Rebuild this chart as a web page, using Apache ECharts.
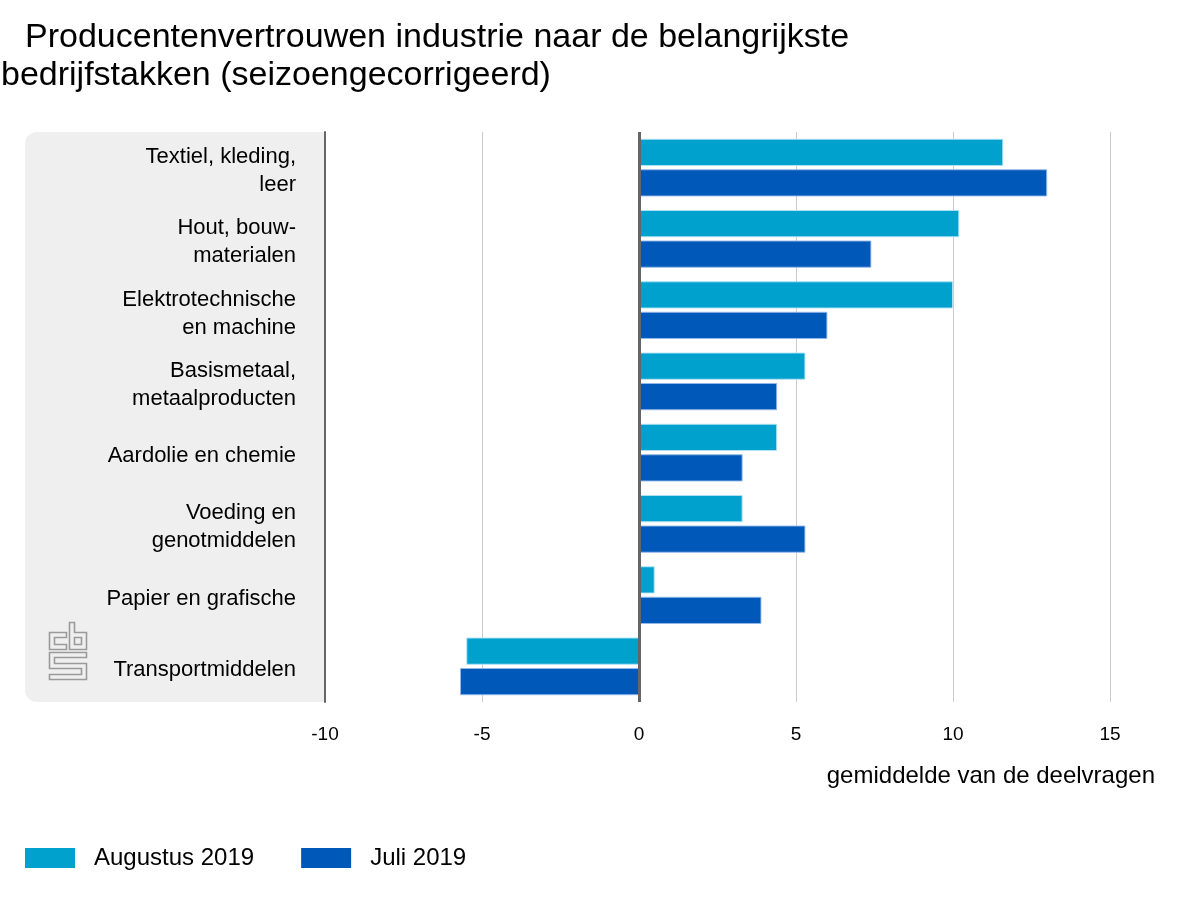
<!DOCTYPE html>
<html><head><meta charset="utf-8">
<script src="https://cdn.jsdelivr.net/npm/echarts@6/dist/echarts.min.js"></script>
<style>html,body{margin:0;padding:0;background:#fff}#c{width:1200px;height:900px}</style>
</head><body><div id="c"></div>
<script>
const categories = ["Textiel, kleding,\nleer","Hout, bouw-\nmaterialen","Elektrotechnische\nen machine","Basismetaal,\nmetaalproducten","Aardolie en chemie","Voeding en\ngenotmiddelen","Papier en grafische","Transportmiddelen"];
const augustus2019 = [11.6, 10.2, 10.0, 5.3, 4.4, 3.3, 0.5, -5.5];
const juli2019 = [13.0, 7.4, 6.0, 4.4, 3.3, 5.3, 3.9, -5.7];
const seriesNames = ["Augustus 2019","Juli 2019"];
const xTicks = {min:-10, max:15, interval:5};

const FONT = '"Liberation Sans", Arial, sans-serif';
const chart = echarts.init(document.getElementById('c'), null, {renderer:'canvas'});
const GL=325, GR=1200-1110, GT=132, GB=900-702;
const logoStroke = {stroke:'#9a9a9a', fill:null, lineWidth:1.6};
const lblStyle = {fontFamily:FONT,fontSize:22,color:'#000',lineHeight:28,align:'right'};
chart.setOption({
  animation:false,
  textStyle:{fontFamily:FONT},
  title:[
    {text:'Producentenvertrouwen industrie naar de belangrijkste', left:20, top:16, textStyle:{fontFamily:FONT,fontSize:34,fontWeight:'normal',color:'#000'}},
    {text:'bedrijfstakken (seizoengecorrigeerd)', left:-4, top:54, textStyle:{fontFamily:FONT,fontSize:34,fontWeight:'normal',color:'#000'}}
  ],
  graphic:[
    {type:'rect', z:-10, shape:{x:25,y:GT,width:GL-25,height:702-GT,r:[12,0,0,12]}, style:{fill:'#efefef'}},
    {type:'text', right:45, top:764, style:{text:'gemiddelde van de deelvragen', font:'24px '+FONT, fill:'#000'}},
    {type:'group', left:47, top:620, children:[
      {type:'polygon', shape:{points:[[17,10],[0,10],[0,27],[17,27],[17,22],[5,22],[5,15],[17,15]]}, style:logoStroke},
      {type:'polygon', shape:{points:[[20,0],[25,0],[25,10],[37,10],[37,27],[20,27]]}, style:logoStroke},
      {type:'rect', shape:{x:25,y:15,width:7,height:7}, style:logoStroke},
      {type:'polygon', shape:{points:[[0,30],[37,30],[37,35],[5,35],[5,41],[37,41],[37,57],[0,57],[0,52],[32,52],[32,46],[0,46]]}, style:logoStroke}
    ]}
  ],
  legend:{left:20, top:841, itemWidth:50, itemHeight:20, itemGap:47, icon:'rect',
    itemStyle:{borderWidth:0},
    data:seriesNames, textStyle:{fontFamily:FONT,fontSize:24,color:'#000',padding:[0,0,0,14]}},
  grid:{left:GL, right:GR, top:GT, bottom:GB, containLabel:false},
  xAxis:{type:'value', min:xTicks.min, max:xTicks.max, interval:xTicks.interval,
    axisLine:{show:false}, axisTick:{show:false},
    axisLabel:{fontFamily:FONT,fontSize:19,color:'#000',margin:23},
    splitLine:{lineStyle:{color:'#cccccc',width:1}}},
  yAxis:{type:'category', inverse:true, data:categories,
    axisLine:{show:true,onZero:false,lineStyle:{color:'#666',width:2}},
    axisTick:{show:false},
    axisLabel:{fontFamily:FONT,fontSize:22,color:'#000',margin:29,align:'right',lineHeight:28,
      formatter: v => v.split('\n').map(p => '{s|'+p+'}').join('\n'),
      rich:{s:Object.assign({},lblStyle,{padding:[7,0,0,0]})}}},
  series:[
    {name:seriesNames[0], type:'bar', data:augustus2019, barGap:'12%', barCategoryGap:'19%',
      itemStyle:{color:'#00a1cd',borderColor:'rgba(180,225,245,0.9)',borderWidth:1},
      markLine:{silent:true,symbol:'none',label:{show:false},lineStyle:{color:'#666',width:3,type:'solid'},data:[{xAxis:0}]}},
    {name:seriesNames[1], type:'bar', data:juli2019, barGap:'12%', barCategoryGap:'19%',
      itemStyle:{color:'#0058b8',borderColor:'rgba(150,185,235,0.9)',borderWidth:1}}
  ]
});
</script></body></html>
